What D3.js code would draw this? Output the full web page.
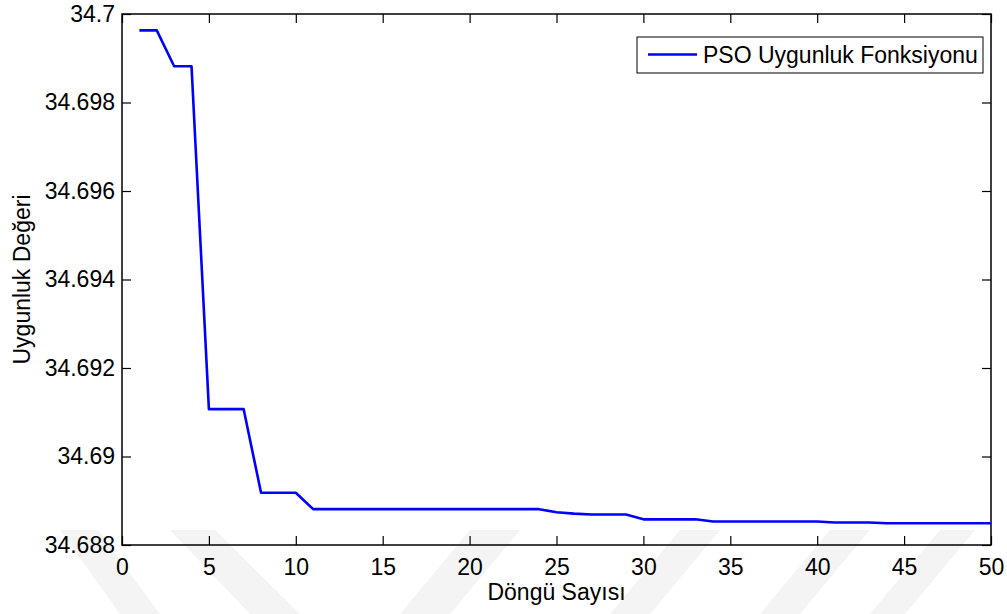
<!DOCTYPE html>
<html>
<head>
<meta charset="utf-8">
<script src="https://cdn.jsdelivr.net/npm/d3@7"></script>
<style>
  html, body { margin: 0; padding: 0; background: #fff; }
  text { font-family: "Liberation Sans", Arial, sans-serif; fill: #000; }
</style>
</head>
<body>
<svg id="chart" width="1007" height="614"></svg>
<script>
// iteration numbers and PSO fitness values
const iterations = d3.range(1, 51);
const fitness = [
  34.69963, 34.69963, 34.69882, 34.69882, 34.69107, 34.69107, 34.69107,
  34.68918, 34.68918, 34.68918,
  34.68881, 34.68881, 34.68881, 34.68881, 34.68881, 34.68881, 34.68881,
  34.68881, 34.68881, 34.68881, 34.68881, 34.68881, 34.68881, 34.68881,
  34.68874, 34.68871, 34.68869, 34.68869, 34.68869,
  34.68858, 34.68858, 34.68858, 34.68858,
  34.68853, 34.68853, 34.68853, 34.68853, 34.68853, 34.68853, 34.68853,
  34.68851, 34.68851, 34.68851,
  34.68849, 34.68849, 34.68849, 34.68849, 34.68849, 34.68849, 34.68849
];
const xTicks = [0, 5, 10, 15, 20, 25, 30, 35, 40, 45, 50];
const yTicks = [34.688, 34.69, 34.692, 34.694, 34.696, 34.698, 34.7];
const seriesName = 'PSO Uygunluk Fonksiyonu';
const xTitle = 'Döngü Sayısı';
const yTitle = 'Uygunluk Değeri';

const plotLeft = 122, plotRight = 991, plotTop = 14, plotBottom = 545;
const tickLen = 9;
const fontSize = 23;

const svg = d3.select('#chart');

// faint watermark bands at the bottom of the page
const bands = [
  [[60, 530], [98, 530], [160, 614], [120, 614]],
  [[170, 530], [215, 530], [300, 614], [250, 614]],
  [[470, 530], [520, 530], [450, 614], [400, 614]],
  [[680, 530], [720, 530], [650, 614], [610, 614]],
  [[830, 530], [870, 530], [800, 614], [760, 614]],
  [[940, 530], [975, 530], [905, 614], [870, 614]]
];
svg.append('g')
  .selectAll('path')
  .data(bands)
  .enter()
  .append('path')
  .attr('d', d => d3.line()(d) + 'Z')
  .attr('fill', '#f4f4f4');

let x = d3.scaleLinear()
  .domain([0, 50])
  .range([plotLeft, plotRight]);

let y = d3.scaleLinear()
  .domain([34.688, 34.7])
  .range([plotBottom, plotTop]);

const fmt = d => String(+d.toFixed(3));

// bottom axis, ticks pointing inward
svg.append('g')
  .attr('transform', 'translate(0,' + plotBottom + ')')
  .call(d3.axisBottom(x).tickValues(xTicks).tickSize(-tickLen).tickPadding(14).tickFormat(d3.format('d')))
  .call(g => g.select('.domain').remove());

// top axis, ticks only
svg.append('g')
  .attr('transform', 'translate(0,' + plotTop + ')')
  .call(d3.axisTop(x).tickValues(xTicks).tickSize(-tickLen).tickFormat(''))
  .call(g => g.select('.domain').remove());

// left axis
svg.append('g')
  .attr('transform', 'translate(' + plotLeft + ',0)')
  .call(d3.axisLeft(y).tickValues(yTicks).tickSize(-tickLen).tickPadding(7).tickFormat(fmt))
  .call(g => g.select('.domain').remove());

// right axis, ticks only
svg.append('g')
  .attr('transform', 'translate(' + plotRight + ',0)')
  .call(d3.axisRight(y).tickValues(yTicks).tickSize(-tickLen).tickFormat(''))
  .call(g => g.select('.domain').remove());

svg.selectAll('.tick line')
  .attr('stroke', '#000')
  .attr('stroke-width', 1.2);

svg.selectAll('.tick text')
  .style('font-size', fontSize + 'px')
  .style('font-family', '"Liberation Sans", Arial, sans-serif')
  .attr('fill', '#000');

// axes box
svg.append('rect')
  .attr('x', plotLeft)
  .attr('y', plotTop)
  .attr('width', plotRight - plotLeft)
  .attr('height', plotBottom - plotTop)
  .attr('fill', 'none')
  .attr('stroke', '#000')
  .attr('stroke-width', 1.5);

// fitness line
const line = d3.line()
  .x((d, i) => x(iterations[i]))
  .y(d => y(d));

svg.append('path')
  .datum(fitness)
  .attr('d', line)
  .attr('fill', 'none')
  .attr('stroke', '#0000ff')
  .attr('stroke-width', 2.6)
  .attr('stroke-linejoin', 'round');

// axis titles
svg.append('text')
  .attr('x', (plotLeft + plotRight) / 2)
  .attr('y', 600)
  .attr('text-anchor', 'middle')
  .style('font-size', fontSize + 'px')
  .text(xTitle);

svg.append('text')
  .attr('transform', 'translate(30,' + (plotTop + plotBottom) / 2 + ') rotate(-90)')
  .attr('text-anchor', 'middle')
  .style('font-size', fontSize + 'px')
  .text(yTitle);

// legend
const legend = svg.append('g');
legend.append('rect')
  .attr('x', 637)
  .attr('y', 37)
  .attr('width', 346)
  .attr('height', 36)
  .attr('fill', '#fff')
  .attr('stroke', '#000')
  .attr('stroke-width', 1);
legend.append('line')
  .attr('x1', 648)
  .attr('x2', 697)
  .attr('y1', 54.5)
  .attr('y2', 54.5)
  .attr('stroke', '#0000ff')
  .attr('stroke-width', 2.6);
legend.append('text')
  .attr('x', 703)
  .attr('y', 63)
  .style('font-size', fontSize + 'px')
  .text(seriesName);
</script>
</body>
</html>
